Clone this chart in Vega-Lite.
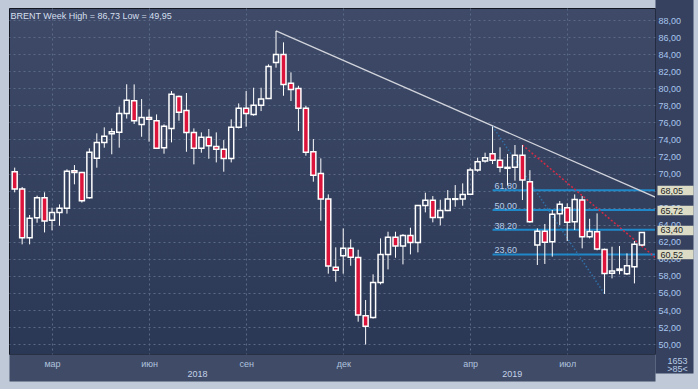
{
  "$schema": "https://vega.github.io/schema/vega-lite/v6.json",
  "width": 646,
  "height": 346,
  "autosize": {"type": "none"},
  "padding": {"left": 9, "top": 8, "right": 43, "bottom": 35},
  "background": "#BFC9D7",
  "config": {
    "font": "Liberation Sans",
    "view": {
      "fill": {"gradient": "linear", "x1": 0, "y1": 0, "x2": 0, "y2": 1, "stops": [{"offset": 0, "color": "#3E4A67"}, {"offset": 1, "color": "#2B3855"}]},
      "stroke": "#121722",
      "strokeWidth": 1
    }
  },
  "datasets": {
    "candles": [
      {"date":"2018-01-29","open":70.22,"high":70.7,"low":67.8,"close":68.19},
      {"date":"2018-02-05","open":68.19,"high":68.43,"low":61.7,"close":62.48},
      {"date":"2018-02-12","open":62.48,"high":65.14,"low":61.7,"close":64.75},
      {"date":"2018-02-19","open":64.83,"high":67.41,"low":64.24,"close":67.17},
      {"date":"2018-02-26","open":67.17,"high":67.8,"low":63.1,"close":64.44},
      {"date":"2018-03-05","open":64.52,"high":66.0,"low":63.34,"close":65.45},
      {"date":"2018-03-12","open":65.45,"high":66.39,"low":63.89,"close":65.92},
      {"date":"2018-03-19","open":65.92,"high":70.5,"low":65.3,"close":70.26},
      {"date":"2018-03-26","open":70.34,"high":71.0,"low":68.74,"close":70.14},
      {"date":"2018-04-02","open":70.14,"high":70.2,"low":66.6,"close":66.82},
      {"date":"2018-04-09","open":67.17,"high":72.96,"low":67.06,"close":72.49},
      {"date":"2018-04-16","open":71.79,"high":74.72,"low":70.69,"close":73.66},
      {"date":"2018-04-23","open":73.66,"high":75.42,"low":73.04,"close":74.37},
      {"date":"2018-04-30","open":74.68,"high":75.3,"low":72.26,"close":74.91},
      {"date":"2018-05-07","open":74.84,"high":77.85,"low":73.04,"close":77.06},
      {"date":"2018-05-14","open":77.06,"high":80.47,"low":76.45,"close":78.6},
      {"date":"2018-05-21","open":78.55,"high":80.46,"low":75.81,"close":76.2},
      {"date":"2018-05-28","open":75.77,"high":78.74,"low":74.32,"close":76.59},
      {"date":"2018-06-04","open":76.59,"high":77.53,"low":73.74,"close":76.36},
      {"date":"2018-06-11","open":76.2,"high":76.94,"low":72.9,"close":72.96},
      {"date":"2018-06-18","open":73.04,"high":75.77,"low":72.33,"close":75.54},
      {"date":"2018-06-25","open":75.3,"high":79.68,"low":73.66,"close":79.29},
      {"date":"2018-07-02","open":79.05,"high":79.15,"low":76.2,"close":77.18},
      {"date":"2018-07-09","open":77.41,"high":79.45,"low":72.56,"close":74.83},
      {"date":"2018-07-16","open":74.83,"high":75.3,"low":71.08,"close":72.96},
      {"date":"2018-07-23","open":72.96,"high":74.83,"low":72.45,"close":74.25},
      {"date":"2018-07-30","open":74.25,"high":75.22,"low":71.74,"close":73.27},
      {"date":"2018-08-06","open":73.19,"high":74.83,"low":71.31,"close":72.84},
      {"date":"2018-08-13","open":72.84,"high":73.93,"low":70.22,"close":71.78},
      {"date":"2018-08-20","open":71.78,"high":76.36,"low":71.31,"close":75.42},
      {"date":"2018-08-27","open":75.42,"high":78.23,"low":75.3,"close":77.65},
      {"date":"2018-09-03","open":77.65,"high":79.68,"low":75.5,"close":77.06},
      {"date":"2018-09-10","open":76.94,"high":80.07,"low":76.79,"close":78.0},
      {"date":"2018-09-17","open":78.0,"high":80.07,"low":77.33,"close":78.74},
      {"date":"2018-09-24","open":78.82,"high":82.81,"low":78.74,"close":82.57},
      {"date":"2018-10-01","open":83.04,"high":86.73,"low":82.42,"close":83.98},
      {"date":"2018-10-08","open":83.98,"high":85.39,"low":79.13,"close":80.46},
      {"date":"2018-10-15","open":80.58,"high":81.87,"low":78.51,"close":79.87},
      {"date":"2018-10-22","open":79.99,"high":80.3,"low":74.99,"close":77.65},
      {"date":"2018-10-29","open":77.65,"high":77.96,"low":72.1,"close":72.49},
      {"date":"2018-11-05","open":72.56,"high":74.05,"low":69.05,"close":69.79},
      {"date":"2018-11-12","open":70.02,"high":71.78,"low":64.47,"close":67.01},
      {"date":"2018-11-19","open":67.01,"high":67.56,"low":58.26,"close":59.16},
      {"date":"2018-11-26","open":59.0,"high":61.35,"low":57.32,"close":58.65},
      {"date":"2018-12-03","open":60.37,"high":63.57,"low":58.26,"close":61.23},
      {"date":"2018-12-10","open":61.23,"high":62.28,"low":59.19,"close":60.2},
      {"date":"2018-12-17","open":60.17,"high":61.07,"low":52.63,"close":53.41},
      {"date":"2018-12-24","open":53.33,"high":55.17,"low":49.95,"close":52.08},
      {"date":"2018-12-31","open":53.13,"high":58.18,"low":53.0,"close":57.24},
      {"date":"2019-01-07","open":57.24,"high":62.4,"low":57.0,"close":60.52},
      {"date":"2019-01-14","open":60.52,"high":63.18,"low":58.76,"close":62.52},
      {"date":"2019-01-21","open":62.52,"high":63.18,"low":60.13,"close":61.5},
      {"date":"2019-01-28","open":61.5,"high":62.9,"low":59.35,"close":62.75},
      {"date":"2019-02-04","open":62.75,"high":63.65,"low":60.52,"close":61.93},
      {"date":"2019-02-11","open":61.93,"high":66.3,"low":60.76,"close":66.27},
      {"date":"2019-02-18","open":66.27,"high":67.76,"low":65.45,"close":66.86},
      {"date":"2019-02-25","open":66.86,"high":67.36,"low":64.28,"close":64.86},
      {"date":"2019-03-04","open":64.86,"high":66.93,"low":63.92,"close":65.68},
      {"date":"2019-03-11","open":65.68,"high":68.07,"low":65.6,"close":67.01},
      {"date":"2019-03-18","open":66.97,"high":68.65,"low":66.11,"close":67.05},
      {"date":"2019-03-25","open":67.01,"high":68.85,"low":66.23,"close":67.56},
      {"date":"2019-04-01","open":67.57,"high":70.69,"low":67.5,"close":70.42},
      {"date":"2019-04-08","open":70.42,"high":71.87,"low":70.22,"close":71.4},
      {"date":"2019-04-15","open":71.48,"high":72.45,"low":71.28,"close":71.87},
      {"date":"2019-04-22","open":72.34,"high":75.54,"low":71.12,"close":71.55},
      {"date":"2019-04-29","open":71.55,"high":73.08,"low":70.15,"close":70.73},
      {"date":"2019-05-06","open":70.73,"high":72.3,"low":68.58,"close":70.62},
      {"date":"2019-05-13","open":70.73,"high":73.35,"low":69.17,"close":72.14},
      {"date":"2019-05-20","open":72.14,"high":73.35,"low":66.9,"close":69.25},
      {"date":"2019-05-27","open":69.05,"high":70.4,"low":64.24,"close":64.36},
      {"date":"2019-06-03","open":61.62,"high":63.58,"low":59.28,"close":63.23},
      {"date":"2019-06-10","open":63.23,"high":64.09,"low":59.4,"close":61.94},
      {"date":"2019-06-17","open":62.01,"high":65.73,"low":60.26,"close":65.22},
      {"date":"2019-06-24","open":65.3,"high":66.78,"low":63.97,"close":66.39},
      {"date":"2019-07-01","open":66.0,"high":66.51,"low":62.09,"close":64.3},
      {"date":"2019-07-08","open":64.35,"high":67.56,"low":63.38,"close":66.97},
      {"date":"2019-07-15","open":66.9,"high":67.36,"low":61.23,"close":62.6},
      {"date":"2019-07-22","open":62.6,"high":64.7,"low":62.4,"close":63.2},
      {"date":"2019-07-29","open":63.18,"high":65.33,"low":61.0,"close":61.15},
      {"date":"2019-08-05","open":61.11,"high":61.2,"low":55.88,"close":58.29},
      {"date":"2019-08-12","open":58.3,"high":61.42,"low":57.71,"close":58.57},
      {"date":"2019-08-19","open":58.65,"high":61.5,"low":58.18,"close":58.8},
      {"date":"2019-08-26","open":58.26,"high":60.64,"low":58.1,"close":59.19},
      {"date":"2019-09-02","open":59.08,"high":62.09,"low":57.12,"close":61.7},
      {"date":"2019-09-09","open":61.62,"high":63.15,"low":61.5,"close":63.1}
    ],
    "fib": [
      {"level":68.05,"label":"61,80","start":"2019-04-22","end":"2019-09-30"},
      {"level":65.72,"label":"50,00","start":"2019-04-22","end":"2019-09-30"},
      {"level":63.4,"label":"38,20","start":"2019-04-22","end":"2019-09-30"},
      {"level":60.52,"label":"23,60","start":"2019-04-22","end":"2019-09-30"}
    ],
    "lines": [
      {"line":"trend","date":"2018-10-01","price":86.73},
      {"line":"trend","date":"2019-09-30","price":66.77},
      {"line":"fib","date":"2019-04-22","price":75.54},
      {"line":"fib","date":"2019-08-05","price":55.88},
      {"line":"red","date":"2019-05-20","price":73.35},
      {"line":"red","date":"2019-09-30","price":59.27}
    ]
  },
  "layer": [
    {
      "data": {"name": "fib"},
      "mark": {"type": "rule", "color": "#1F88C8", "strokeWidth": 2, "clip": true},
      "encoding": {
        "x": {"field": "start", "type": "temporal",
              "scale": {"type": "utc", "nice": false, "domain": [{"year":2018,"month":1,"date":28,"hours":8,"minutes":30,"utc":true},{"year":2019,"month":9,"date":16,"hours":14,"minutes":24,"utc":true}]},
              "axis": {"orient": "bottom", "domain": true, "domainColor": "#3F4B67", "domainWidth": 27, "domainCap": "butt", "offset": 13.5,
                       "labels": false, "ticks": false, "grid": false, "title": null, "zindex": 0}},
        "x2": {"field": "end"},
        "y": {"field": "level", "type": "quantitative",
              "scale": {"domain": [48.84, 89.42], "nice": false, "zero": false},
              "axis": {"orient": "right", "values": [68.05, 65.72, 63.4, 60.52],
                       "labelExpr": "replace(format(datum.value, '.2f'), '.', ',')",
                       "grid": false, "domain": false, "ticks": true, "tickSize": 36, "tickWidth": 9.5,
                       "tickColor": "#DCDCC6", "tickCap": "butt", "offset": 2,
                       "labelPadding": -33, "labelAlign": "left", "labelBaseline": "middle",
                       "labelFontSize": 9, "labelColor": "#1E1E1E", "labelFlush": false, "labelOverlap": false, "labelBound": false,
                       "title": ">85<", "titleAngle": 0, "titleX": 20, "titleY": 360.5, "titleAlign": "center", "titleBaseline": "middle",
                       "titleColor": "#B8CCE6", "titleFontSize": 9, "titleFontWeight": "normal", "zindex": 1}}
      }
    },
    {
      "data": {"name": "fib"},
      "mark": {"type": "text", "align": "left", "baseline": "bottom", "dx": 2, "dy": 1, "fontSize": 9, "color": "#B6CDEA"},
      "encoding": {
        "x": {"field": "start", "type": "temporal", "axis": null,
              "scale": {"type": "utc", "nice": false, "domain": [{"year":2018,"month":1,"date":28,"hours":8,"minutes":30,"utc":true},{"year":2019,"month":9,"date":16,"hours":14,"minutes":24,"utc":true}]}},
        "y": {"field": "level", "type": "quantitative",
              "scale": {"domain": [48.84, 89.42], "nice": false, "zero": false},
              "axis": {"orient": "right", "domain": true, "domainColor": "#35415F", "domainWidth": 38, "domainCap": "square", "offset": 19,
                       "labels": false, "ticks": false, "grid": false,
                       "title": "1653", "titleAngle": 0, "titleX": 3, "titleY": 352, "titleAlign": "center", "titleBaseline": "middle",
                       "titleColor": "#B8CCE6", "titleFontSize": 9, "titleFontWeight": "normal", "zindex": 0}},
        "text": {"field": "label"}
      }
    },
    {
      "data": {"name": "lines"},
      "transform": [{"filter": "datum.line === 'trend'"}],
      "mark": {"type": "line", "color": "#D2D4DC", "strokeWidth": 1.3, "clip": true},
      "encoding": {
        "x": {"field": "date", "type": "temporal",
              "scale": {"type": "utc", "nice": false, "domain": [{"year":2018,"month":1,"date":28,"hours":8,"minutes":30,"utc":true},{"year":2019,"month":9,"date":16,"hours":14,"minutes":24,"utc":true}]},
              "axis": {"orient": "bottom", "values": [{"year":2018,"month":7,"date":19,"utc":true},{"year":2019,"month":5,"date":10,"utc":true}],
                       "labelExpr": "'' + utcyear(datum.value)", "grid": false, "domain": false, "ticks": false,
                       "labelPadding": 19, "labelBaseline": "middle", "labelFontSize": 9, "labelColor": "#C4D2E8",
                       "labelFlush": false, "labelOverlap": false,
                       "title": "BRENT Week High = 86,73 Low = 49,95", "titleX": 1, "titleY": -335.5, "titleAngle": 0,
                       "titleAlign": "left", "titleBaseline": "alphabetic", "titleColor": "#D5DFEE", "titleFontSize": 9,
                       "titleFontWeight": "normal", "zindex": 1}},
        "y": {"field": "price", "type": "quantitative", "axis": null,
              "scale": {"domain": [48.84, 89.42], "nice": false, "zero": false}}
      }
    },
    {
      "data": {"name": "lines"},
      "transform": [{"filter": "datum.line === 'fib'"}],
      "mark": {"type": "line", "color": "#2F6FA6", "strokeWidth": 1.5, "strokeDash": [1.5, 2], "clip": true},
      "encoding": {
        "x": {"field": "date", "type": "temporal", "axis": null,
              "scale": {"type": "utc", "nice": false, "domain": [{"year":2018,"month":1,"date":28,"hours":8,"minutes":30,"utc":true},{"year":2019,"month":9,"date":16,"hours":14,"minutes":24,"utc":true}]}},
        "y": {"field": "price", "type": "quantitative", "axis": null,
              "scale": {"domain": [48.84, 89.42], "nice": false, "zero": false}}
      }
    },
    {
      "data": {"name": "lines"},
      "transform": [{"filter": "datum.line === 'red'"}],
      "mark": {"type": "line", "color": "#D42A46", "strokeWidth": 1.5, "strokeDash": [2, 2], "clip": true},
      "encoding": {
        "x": {"field": "date", "type": "temporal", "axis": null,
              "scale": {"type": "utc", "nice": false, "domain": [{"year":2018,"month":1,"date":28,"hours":8,"minutes":30,"utc":true},{"year":2019,"month":9,"date":16,"hours":14,"minutes":24,"utc":true}]}},
        "y": {"field": "price", "type": "quantitative", "axis": null,
              "scale": {"domain": [48.84, 89.42], "nice": false, "zero": false}}
      }
    },
    {
      "data": {"name": "candles"},
      "transform": [{"filter": "datum.close < datum.open"}],
      "mark": {"type": "rule", "color": "#FFFFFF", "strokeWidth": 1, "clip": true},
      "encoding": {
        "x": {"field": "date", "type": "temporal",
              "scale": {"type": "utc", "nice": false, "domain": [{"year":2018,"month":1,"date":28,"hours":8,"minutes":30,"utc":true},{"year":2019,"month":9,"date":16,"hours":14,"minutes":24,"utc":true}]},
              "axis": {"orient": "bottom",
                       "values": [{"year":2018,"month":3,"date":5,"utc":true},{"year":2018,"month":6,"date":4,"utc":true},{"year":2018,"month":9,"date":3,"utc":true},{"year":2018,"month":12,"date":3,"utc":true},{"year":2019,"month":4,"date":1,"utc":true},{"year":2019,"month":7,"date":1,"utc":true}],
                       "labelExpr": "['янв','фев','мар','апр','май','июн','июл','авг','сен','окт','ноя','дек'][utcmonth(datum.value)]",
                       "grid": true, "gridColor": "#5A6986", "gridDash": [2, 3], "gridWidth": 1,
                       "ticks": false, "domain": false,
                       "labelPadding": 9, "labelBaseline": "middle", "labelFontSize": 9, "labelColor": "#AFC2DE",
                       "labelFlush": false, "labelOverlap": false, "title": null, "zindex": 0}},
        "y": {"field": "high", "type": "quantitative",
              "scale": {"domain": [48.84, 89.42], "nice": false, "zero": false},
              "axis": {"orient": "right", "values": [50,52,54,56,58,60,62,64,66,68,70,72,74,76,78,80,82,84,86,88],
                       "labelExpr": "replace(format(datum.value, '.2f'), '.', ',')",
                       "grid": true, "gridColor": "#5A6986", "gridDash": [2, 3], "gridWidth": 1,
                       "ticks": false, "domain": false,
                       "labelPadding": 3, "labelAlign": "left", "labelBaseline": "middle", "labelFontSize": 9, "labelColor": "#A9C6EE",
                       "labelFlush": false, "labelOverlap": false, "labelBound": false, "title": null, "zindex": 0}},
        "y2": {"field": "low"}
      }
    },
    {
      "data": {"name": "candles"},
      "transform": [{"filter": "datum.close >= datum.open"}],
      "mark": {"type": "rule", "color": "#FFFFFF", "strokeWidth": 1, "clip": true},
      "encoding": {
        "x": {"field": "date", "type": "temporal", "axis": null,
              "scale": {"type": "utc", "nice": false, "domain": [{"year":2018,"month":1,"date":28,"hours":8,"minutes":30,"utc":true},{"year":2019,"month":9,"date":16,"hours":14,"minutes":24,"utc":true}]}},
        "y": {"field": "high", "type": "quantitative", "axis": null,
              "scale": {"domain": [48.84, 89.42], "nice": false, "zero": false}},
        "y2": {"field": "close"}
      }
    },
    {
      "data": {"name": "candles"},
      "transform": [{"filter": "datum.close >= datum.open"}],
      "mark": {"type": "rule", "color": "#FFFFFF", "strokeWidth": 1, "clip": true},
      "encoding": {
        "x": {"field": "date", "type": "temporal", "axis": null,
              "scale": {"type": "utc", "nice": false, "domain": [{"year":2018,"month":1,"date":28,"hours":8,"minutes":30,"utc":true},{"year":2019,"month":9,"date":16,"hours":14,"minutes":24,"utc":true}]}},
        "y": {"field": "open", "type": "quantitative", "axis": null,
              "scale": {"domain": [48.84, 89.42], "nice": false, "zero": false}},
        "y2": {"field": "low"}
      }
    },
    {
      "data": {"name": "candles"},
      "mark": {"type": "bar", "width": 5, "stroke": "#FFFFFF", "strokeWidth": 1.5, "clip": true},
      "encoding": {
        "x": {"field": "date", "type": "temporal", "axis": null,
              "scale": {"type": "utc", "nice": false, "domain": [{"year":2018,"month":1,"date":28,"hours":8,"minutes":30,"utc":true},{"year":2019,"month":9,"date":16,"hours":14,"minutes":24,"utc":true}]}},
        "y": {"field": "open", "type": "quantitative", "axis": null,
              "scale": {"domain": [48.84, 89.42], "nice": false, "zero": false}},
        "y2": {"field": "close"},
        "fill": {"condition": {"test": "datum.close < datum.open", "value": "#DC143C"}, "value": "transparent"}
      }
    }
  ],
  "resolve": {"axis": {"x": "independent", "y": "independent"}}
}
